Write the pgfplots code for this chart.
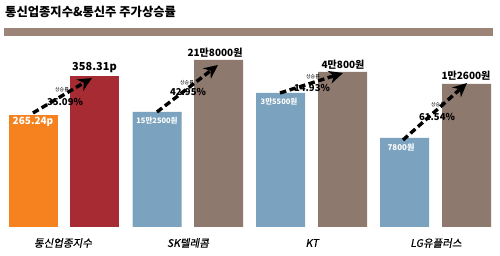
\documentclass[border=0pt]{standalone}
\usepackage{fontspec}
\setmainfont{Noto Sans CJK KR}
\newfontfamily\slantfont[FakeSlant=0.18,FakeBold=0.6]{Noto Sans CJK KR}
\usepackage{pgfplots}
\pgfplotsset{compat=1.18}
\usetikzlibrary{arrows.meta}
\definecolor{cOrange}{HTML}{F5821F}
\definecolor{cRed}{HTML}{A62B33}
\definecolor{cBlue}{HTML}{7BA3BF}
\definecolor{cBrown}{HTML}{8E796E}
\definecolor{cStripe}{HTML}{9C8479}
\begin{document}
\begin{tikzpicture}
\begin{axis}[
  scale only axis, width=500pt, height=256pt,
  xmin=0, xmax=500, ymin=-29, ymax=227,
  hide axis, clip=false,
  ybar, bar width=49,
]
\addplot[ybar, bar shift=0pt, fill=cOrange, draw=none] coordinates {(33,112)};
\addplot[ybar, bar shift=0pt, fill=cRed, draw=none] coordinates {(94.5,151)};
\addplot[ybar, bar shift=0pt, fill=cBlue, draw=none] coordinates {(157,115) (280.5,134) (404.5,89)};
\addplot[ybar, bar shift=0pt, fill=cBrown, draw=none] coordinates {(218.5,167) (342.5,155) (466.5,143)};

% title and stripe
\node[anchor=west, font=\bfseries\fontsize{12.3}{13}\selectfont, inner sep=0pt] at (axis cs:5,215) {통신업종지수\&통신주 주가상승률};
\fill[cStripe] (axis cs:4,191) rectangle (axis cs:493,199);

% arrows
\begin{scope}[line width=3.4pt, dash pattern=on 6.5pt off 3.5pt]
\draw[-{Stealth[length=14pt,width=13pt]}] (axis cs:33,114) -- (axis cs:92,149);
\draw[-{Stealth[length=14pt,width=13pt]}] (axis cs:157,115) -- (axis cs:218,162);
\draw[-{Stealth[length=14pt,width=13pt]}] (axis cs:280,134) -- (axis cs:343,154);
\draw[-{Stealth[length=14pt,width=13pt]}] (axis cs:403,87) -- (axis cs:467,144);
\end{scope}

% value labels
\node[white, font=\bfseries\fontsize{10}{11}\selectfont] at (axis cs:33,105) {265.24p};
\node[font=\bfseries\fontsize{11}{12}\selectfont] at (axis cs:94.5,159) {358.31p};
\node[white, font=\bfseries\fontsize{7.5}{8}\selectfont] at (axis cs:157,106) {15만2500원};
\node[font=\bfseries\fontsize{10}{11}\selectfont] at (axis cs:215,174) {21만8000원};
\node[white, font=\bfseries\fontsize{7.5}{8}\selectfont] at (axis cs:279,125) {3만5500원};
\node[font=\bfseries\fontsize{10}{11}\selectfont] at (axis cs:343,162) {4만800원};
\node[white, font=\bfseries\fontsize{8}{9}\selectfont] at (axis cs:401,80) {7800원};
\node[font=\bfseries\fontsize{10}{11}\selectfont] at (axis cs:466,151) {1만2600원};

% growth labels
\node[font=\fontsize{5}{6}\selectfont, inner sep=0pt] at (axis cs:62,137) {상승률};
\node[font=\bfseries\fontsize{9.5}{10}\selectfont, inner sep=0pt] at (axis cs:65,125) {35.09\%};
\node[font=\fontsize{5}{6}\selectfont, inner sep=0pt] at (axis cs:187,144) {상승률};
\node[font=\bfseries\fontsize{9.5}{10}\selectfont, inner sep=0pt] at (axis cs:188,135) {42.95\%};
\node[font=\fontsize{5}{6}\selectfont, inner sep=0pt] at (axis cs:313,150) {상승률};
\node[font=\bfseries\fontsize{9.5}{10}\selectfont, inner sep=0pt] at (axis cs:312,139) {14.93\%};
\node[font=\fontsize{5}{6}\selectfont, inner sep=0pt] at (axis cs:438,122) {상승률};
\node[font=\bfseries\fontsize{9.5}{10}\selectfont, inner sep=0pt] at (axis cs:437,110) {61.54\%};

% category labels
\node[font=\slantfont\fontsize{10.5}{11}\selectfont] at (axis cs:63,-16) {통신업종지수};
\node[font=\slantfont\fontsize{10.5}{11}\selectfont] at (axis cs:188,-16) {SK텔레콤};
\node[font=\slantfont\fontsize{10.5}{11}\selectfont] at (axis cs:312,-16) {KT};
\node[font=\slantfont\fontsize{10.5}{11}\selectfont] at (axis cs:436,-16) {LG유플러스};
\end{axis}
\pgfresetboundingbox
\path (current axis.south west) rectangle (current axis.north east);
\end{tikzpicture}
\end{document}
